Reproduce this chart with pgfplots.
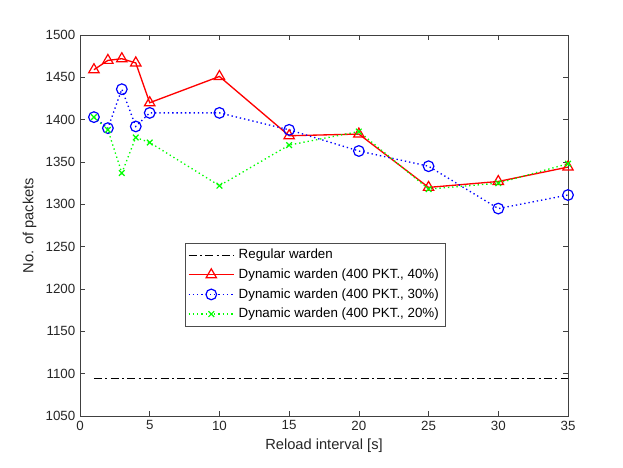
\documentclass[border=0pt]{standalone}
\usepackage{fontspec}
\setmainfont{Liberation Sans}
\usepackage{pgfplots}
\pgfplotsset{compat=1.18}
\begin{document}
\fontsize{10pt}{12pt}\selectfont
\begin{tikzpicture}
\path[use as bounding box] (0,0) rectangle (467.25pt,350.25pt);
\begin{axis}[
  at={(60pt,38.25pt)}, anchor=south west,
  scale only axis, width=366pt, height=285.75pt,
  xmin=0, xmax=35, ymin=1050, ymax=1500,
  xtick={0,5,...,35}, ytick={1050,1100,...,1500},
  tick align=inside, major tick length=3.5pt,
  axis line style={draw=black!75, line width=0.5pt},
  every tick/.style={draw=black!75, line width=0.5pt},
  /pgf/number format/assume math mode=true,
  /pgf/number format/1000 sep={},
  tick label style={font=\fontsize{10pt}{12pt}\selectfont, text=black!85},
  label style={font=\fontsize{11pt}{13pt}\selectfont, text=black!85},
  xlabel={Reload interval [s]}, ylabel={No. of packets},
  legend style={at={(0.215,0.454)}, anchor=north west, draw=black!70,
    font=\fontsize{10pt}{12pt}\selectfont, row sep=2pt, inner xsep=2pt, inner ysep=2.5pt,
    nodes={inner xsep=3pt}},
  legend cell align=left,
  legend image code/.code={\draw[mark repeat=2,mark phase=2] plot coordinates {(0cm,0cm) (0.6cm,0cm) (1.2cm,0cm)};},
]
\addplot[black, line width=0.9pt, dash pattern=on 6pt off 2.5pt on 1.5pt off 2.5pt] coordinates {(1,1094) (35,1094)};
\addlegendentry{Regular warden}
\addplot[red, line width=1pt, mark=triangle, mark size=4.5pt, mark options={solid, line width=0.9pt}] coordinates {
(1,1459) (2,1470) (3,1472) (4,1467) (5,1420) (10,1451) (15,1381) (20,1383) (25,1320) (30,1327) (35,1344)};
\addlegendentry{Dynamic warden (400 PKT., 40\%)}
\addplot[blue, line width=1pt, dash pattern=on 1pt off 2.2pt, mark=o, mark size=4pt, mark options={solid, line width=0.9pt}] coordinates {
(1,1403) (2,1390) (3,1436) (4,1392) (5,1408) (10,1408) (15,1388) (20,1363) (25,1345) (30,1295) (35,1311)};
\addlegendentry{Dynamic warden (400 PKT., 30\%)}
\addplot[green, line width=1pt, dash pattern=on 1pt off 2.2pt, mark=x, mark size=3pt, mark options={solid, line width=0.9pt}] coordinates {
(1,1403) (2,1388) (3,1337) (4,1379) (5,1373) (10,1322) (15,1370) (20,1386) (25,1318) (30,1325) (35,1348)};
\addlegendentry{Dynamic warden (400 PKT., 20\%)}
\end{axis}
\end{tikzpicture}
\end{document}
